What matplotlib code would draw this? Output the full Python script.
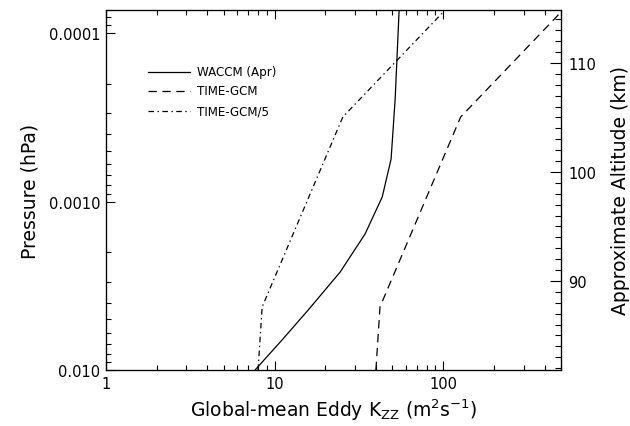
import numpy as np
import matplotlib
matplotlib.use("Agg")
import matplotlib.pyplot as plt
from matplotlib.ticker import FixedLocator, FixedFormatter, LogLocator, NullFormatter, MultipleLocator

plt.rcParams['font.family'] = ['DejaVu Sans']
plt.rcParams['lines.scale_dashes'] = False

# perfiles (presion en hPa, Kzz en m2/s)
p_waccm = [1.0e-2, 6.55e-3, 4.35e-3, 2.62e-3, 1.56e-3, 9.4e-4, 5.6e-4, 3.7e-4, 2.47e-4, 7.3e-5]
kzz_waccm = [7.66, 11.2, 16.0, 24.5, 34.4, 43.5, 49.1, 50.5, 51.9, 54.8]

p_tgcm = [1.0e-2, 4.22e-3, 3.15e-4, 7.3e-5]
kzz_tgcm = [39.9, 42.2, 127.0, 514.0]

# TIME-GCM/5
kzz_tgcm5 = [k / 5.0 for k in kzz_tgcm]

xticks = [1, 10, 100]
xticklabels = ['1', '10', '100']
yticks = [1e-2, 1e-3, 1e-4]
yticklabels = ['0.010', '0.0010', '0.0001']
alt_ticks = [90, 100, 110]
alt_labels = ['90', '100', '110']

etiquetas = ['WACCM (Apr)', 'TIME-GCM', 'TIME-GCM/5']
estilos = [(None), (6, 4), (4, 2.5, 1, 2.5)]

fig = plt.figure(figsize=(6.3, 4.27), dpi=100)
ax = fig.add_axes([106/630, 1-371/427, 455/630, 360/427])

series = [(kzz_waccm, p_waccm), (kzz_tgcm, p_tgcm), (kzz_tgcm5, p_tgcm)]
for (xs, ys), d in zip(series, estilos):
    if d is None:
        ax.plot(xs, ys, color='black', lw=0.9)
    else:
        ax.plot(xs, ys, color='black', lw=0.9, dashes=d)

ax.set_xscale('log')
ax.set_yscale('log')
ax.set_xlim(1, 500)
ax.set_ylim(1e-2, 10**-4.1365)

ax.xaxis.set_major_locator(FixedLocator(xticks))
ax.xaxis.set_major_formatter(FixedFormatter(xticklabels))
ax.xaxis.set_minor_locator(LogLocator(base=10, subs=np.arange(2, 10)))
ax.xaxis.set_minor_formatter(NullFormatter())
ax.yaxis.set_major_locator(FixedLocator(yticks))
ax.yaxis.set_major_formatter(FixedFormatter(yticklabels))
ax.yaxis.set_minor_locator(LogLocator(base=10, subs=np.arange(2, 10)))
ax.yaxis.set_minor_formatter(NullFormatter())

ax.tick_params(which='both', direction='in', top=True, right=False, labelsize=10.5, width=0.8)
ax.tick_params(which='major', length=6.5, pad=4)
ax.tick_params(which='minor', length=3.6)
for s in ax.spines.values():
    s.set_linewidth(0.9)

ax.set_xlabel('Global-mean Eddy K$_{\\mathrm{ZZ}}$ (m$^2$s$^{-1}$)', fontsize=13.5, labelpad=4)
ax.set_ylabel('Pressure (hPa)', fontsize=13.5, labelpad=7)

# eje de altitud aproximada
ax2 = ax.twinx()
ax2.set_ylim(81.83, 114.86)
ax2.yaxis.set_major_locator(FixedLocator(alt_ticks))
ax2.yaxis.set_major_formatter(FixedFormatter(alt_labels))
ax2.yaxis.set_minor_locator(MultipleLocator(1))
ax2.tick_params(which='both', direction='in', labelsize=10.5, width=0.8)
ax2.tick_params(which='major', length=8, pad=5)
ax2.tick_params(which='minor', length=4)
ax2.set_ylabel('Approximate Altitude (km)', fontsize=13.5, labelpad=11)

# leyenda
leg_y = [0.8278, 0.775, 0.7194]
for lab, d, y in zip(etiquetas, estilos, leg_y):
    if d is None:
        ax.plot([0.0923, 0.1846], [y, y], transform=ax.transAxes, color='black', lw=0.9)
    else:
        ax.plot([0.0923, 0.1846], [y, y], transform=ax.transAxes, color='black', lw=0.9, dashes=d)
    ax.text(0.2, y, lab, transform=ax.transAxes, fontsize=8.6, va='center')

fig.savefig('out.png', dpi=100)
